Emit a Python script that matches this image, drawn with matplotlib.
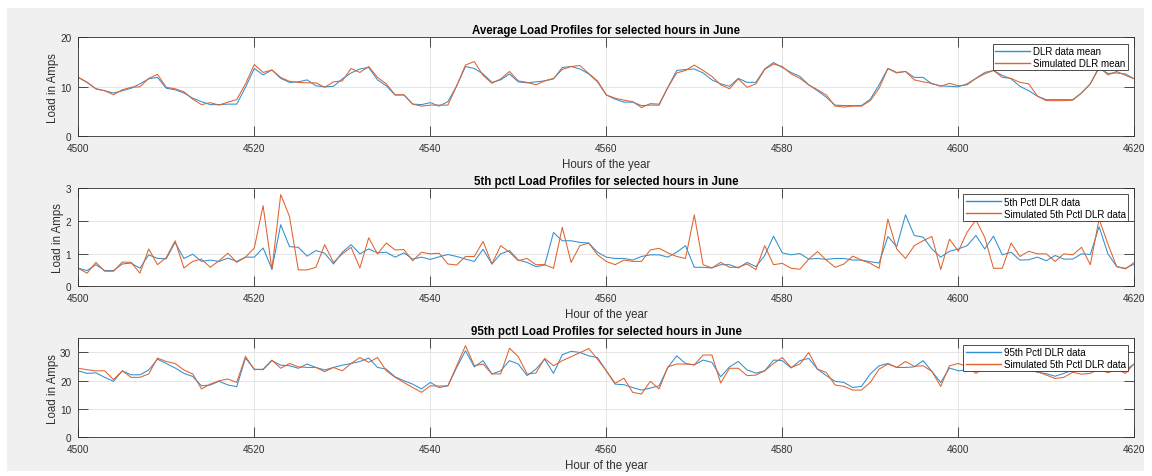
import numpy as np
import matplotlib
matplotlib.use("Agg")
import matplotlib.pyplot as plt
from matplotlib.patches import Rectangle

plt.rcParams['font.family'] = ['Liberation Sans', 'DejaVu Sans']

hours = np.arange(4500, 4621)

mean_dlr = [
    11.9, 10.9, 9.6, 9.2, 8.75, 9.2, 9.7, 10.6, 11.6, 11.9,
    9.7, 9.4, 8.75, 7.7, 7.0, 6.4, 6.4, 6.5, 6.5, 9.9,
    13.7, 12.4, 13.4, 11.7, 10.9, 11.0, 11.4, 10.2, 10.0, 10.1,
    11.6, 12.8, 13.6, 13.9, 11.4, 10.2, 8.35, 8.35, 6.5, 6.4,
    6.8, 6.1, 7.0, 10.2, 14.1, 13.7, 12.6, 10.9, 11.4, 12.6,
    11.0, 10.8, 11.0, 11.2, 11.6, 13.9, 14.1, 13.6, 12.6, 11.0,
    8.35, 7.5, 6.9, 6.9, 6.2, 6.3, 6.3, 9.9, 13.3, 13.5,
    13.6, 12.8, 11.4, 10.6, 10.1, 11.7, 10.9, 10.9, 13.6, 14.9,
    13.9, 12.9, 12.1, 10.4, 9.2, 7.9, 6.3, 6.2, 6.2, 6.2,
    7.5, 10.4, 13.7, 12.8, 13.1, 11.9, 11.9, 10.6, 10.2, 10.1,
    10.0, 10.6, 11.7, 12.9, 13.3, 12.3, 11.6, 10.1, 9.2, 8.1,
    7.4, 7.4, 7.4, 7.4, 8.75, 10.6, 13.8, 12.7, 12.8, 12.6,
    11.6,
]
mean_sim = [
    11.9, 10.9, 9.6, 9.2, 8.4, 9.4, 9.9, 10.0, 11.7, 12.5,
    9.9, 9.6, 9.0, 7.5, 6.4, 6.8, 6.3, 6.9, 7.4, 10.6,
    14.5, 12.9, 13.4, 11.9, 11.1, 10.9, 10.8, 10.8, 9.9, 11.0,
    11.2, 13.7, 12.9, 14.1, 11.9, 10.6, 8.35, 8.4, 6.5, 6.1,
    6.3, 6.3, 6.3, 10.2, 14.4, 15.1, 12.3, 10.7, 11.6, 13.1,
    11.2, 10.9, 10.4, 11.2, 11.7, 13.5, 14.1, 14.3, 12.7, 11.2,
    8.35, 7.7, 7.3, 7.0, 5.8, 6.6, 6.5, 9.9, 12.8, 13.3,
    14.4, 13.3, 12.1, 10.4, 9.6, 11.6, 9.9, 10.6, 13.5, 14.6,
    14.1, 12.6, 11.7, 10.4, 9.4, 8.35, 6.1, 5.9, 6.1, 6.1,
    7.2, 9.7, 13.7, 12.9, 13.1, 11.4, 11.0, 10.7, 10.1, 10.7,
    10.2, 10.4, 11.7, 12.6, 13.3, 11.9, 11.7, 10.9, 10.6, 8.1,
    7.2, 7.2, 7.2, 7.3, 8.75, 10.6, 14.0, 12.4, 13.1, 12.3,
    11.6,
]

p5_dlr = [
    0.55, 0.48, 0.66, 0.48, 0.48, 0.68, 0.71, 0.55, 0.96, 0.85,
    0.84, 1.34, 0.85, 0.98, 0.76, 0.80, 0.76, 0.86, 0.76, 0.89,
    0.89, 1.17, 0.53, 1.88, 1.21, 1.19, 0.92, 1.09, 1.01, 0.68,
    1.04, 1.27, 0.99, 1.14, 1.02, 1.04, 0.89, 1.02, 0.83, 0.89,
    0.82, 0.90, 0.97, 0.91, 0.83, 0.76, 1.13, 0.68, 0.99, 1.09,
    0.80, 0.73, 0.60, 0.65, 1.64, 1.39, 1.39, 1.34, 1.32, 1.04,
    0.89, 0.85, 0.85, 0.80, 0.91, 0.96, 0.96, 0.89, 1.04, 1.24,
    0.58, 0.58, 0.56, 0.66, 0.66, 0.56, 0.73, 0.60, 0.94, 1.53,
    1.02, 0.96, 1.00, 0.83, 0.85, 0.82, 0.85, 0.85, 0.80, 0.80,
    0.75, 0.71, 1.52, 1.21, 2.18, 1.55, 1.50, 1.14, 0.89, 1.07,
    1.14, 1.24, 1.55, 1.14, 1.53, 0.96, 1.04, 0.80, 0.81, 0.89,
    0.78, 0.94, 0.83, 0.83, 0.99, 0.97, 1.82, 0.99, 0.60, 0.55,
    0.68,
]
p5_sim = [
    0.55, 0.40, 0.73, 0.46, 0.46, 0.74, 0.73, 0.40, 1.14, 0.66,
    0.88, 1.39, 0.56, 0.76, 0.83, 0.58, 0.78, 1.01, 0.73, 0.89,
    1.17, 2.46, 0.51, 2.80, 2.13, 0.50, 0.50, 0.58, 1.27, 0.73,
    0.99, 1.19, 0.56, 1.48, 0.99, 1.32, 1.11, 1.12, 0.78, 1.04,
    0.99, 1.01, 0.68, 0.65, 0.91, 0.91, 1.37, 0.68, 1.24, 1.04,
    0.78, 0.85, 0.66, 0.66, 0.55, 1.80, 0.73, 1.24, 1.32, 0.96,
    0.76, 0.66, 0.80, 0.76, 0.76, 1.11, 1.16, 1.02, 0.91, 0.85,
    2.18, 0.66, 0.56, 0.73, 0.58, 0.58, 0.68, 0.51, 1.24, 0.66,
    0.70, 0.55, 0.52, 0.83, 1.06, 0.80, 0.58, 0.68, 0.92, 0.80,
    0.70, 0.55, 2.05, 1.14, 0.85, 1.24, 1.39, 1.52, 0.51, 1.44,
    1.07, 1.65, 2.02, 1.50, 0.55, 0.55, 1.32, 0.91, 1.07, 0.99,
    0.99, 0.76, 0.99, 0.96, 1.19, 0.66, 2.05, 1.29, 0.60, 0.53,
    0.73,
]

p95_dlr = [
    23.5, 22.6, 22.8, 21.2, 19.8, 23.5, 22.1, 22.1, 23.8, 27.6,
    26.1, 24.5, 22.6, 21.5, 18.2, 18.5, 19.8, 18.5, 17.9, 28.0,
    24.1, 23.9, 27.1, 25.5, 25.3, 24.4, 25.9, 24.7, 23.8, 24.7,
    25.5, 26.1, 26.8, 28.0, 24.7, 24.1, 21.4, 20.0, 18.8, 17.1,
    19.4, 17.6, 18.2, 24.7, 30.6, 24.9, 27.1, 22.4, 23.5, 27.1,
    25.9, 21.8, 24.1, 27.6, 22.6, 29.2, 30.4, 30.0, 28.8, 28.2,
    23.5, 18.8, 18.6, 17.6, 16.7, 17.4, 18.2, 24.7, 28.8, 26.1,
    25.6, 27.3, 26.5, 21.4, 24.9, 26.8, 23.8, 22.7, 23.5, 27.3,
    27.1, 24.5, 27.1, 27.9, 24.1, 21.8, 19.8, 19.4, 17.6, 18.0,
    22.4, 25.3, 26.1, 24.7, 24.7, 24.9, 27.1, 23.3, 19.4, 24.5,
    23.5, 23.8, 24.5, 25.0, 25.3, 24.7, 24.2, 24.0, 23.8, 23.0,
    22.5, 21.6, 22.6, 23.8, 24.2, 24.0, 24.4, 24.0, 24.2, 23.8,
    25.9,
]
p95_sim = [
    24.4, 23.9, 23.5, 23.5, 20.4, 23.5, 21.2, 21.2, 22.4, 28.0,
    26.8, 26.1, 23.8, 22.4, 17.1, 18.8, 20.0, 20.6, 19.4, 28.6,
    23.9, 24.1, 27.3, 24.4, 26.1, 24.9, 24.7, 24.7, 23.2, 24.7,
    23.5, 26.1, 28.2, 26.5, 28.2, 23.5, 21.2, 19.4, 17.6, 15.9,
    18.2, 18.1, 18.2, 25.3, 32.4, 25.3, 25.9, 22.4, 22.4, 31.5,
    28.5, 22.4, 22.7, 27.9, 25.3, 27.1, 28.5, 29.9, 31.4, 27.6,
    23.5, 19.1, 20.9, 15.9, 15.3, 19.8, 17.1, 24.9, 25.9, 25.9,
    25.6, 29.1, 29.1, 19.2, 24.4, 24.4, 21.8, 22.0, 23.5, 26.1,
    28.2, 24.7, 25.9, 30.0, 24.1, 22.9, 18.5, 18.0, 16.7, 16.7,
    19.4, 24.1, 25.9, 24.7, 26.8, 25.1, 25.3, 23.3, 18.0, 25.3,
    26.1, 25.0, 22.6, 24.5, 25.0, 24.0, 24.4, 24.0, 23.5, 23.2,
    22.0, 20.8, 21.2, 23.0, 22.3, 22.6, 24.2, 22.8, 24.0, 22.6,
    26.1,
]

titles = [
    "Average Load Profiles for selected hours in June",
    "5th pctl Load Profiles for selected hours in June",
    "95th pctl Load Profiles for selected hours in June",
]
xlabels = ["Hours of the year", "Hour of the year", "Hour of the year"]
legend_labels = [
    ("DLR data mean", "Simulated DLR mean"),
    ("5th Pctl DLR data", "Simulated 5th Pctl DLR data"),
    ("95th Pctl DLR data", "Simulated 5th Pctl DLR data"),
]
yticks = [[0, 10, 20], [0, 1, 2, 3], [0, 10, 20, 30]]
ylims = [(0, 20), (0, 3), (0, 35)]
xticks = list(range(4500, 4621, 20))

BLUE = "#2f8fd3"
ORANGE = "#e0622c"
DARK = "#303030"

W, H = 1152, 477
fig = plt.figure(figsize=(W / 100, H / 100), dpi=100, facecolor="white")
fig.add_artist(Rectangle((7 / W, 1 - 472 / H), (1144 - 7) / W, (472 - 9) / H,
                         transform=fig.transFigure, facecolor="#f0f0f0",
                         edgecolor="none", zorder=-10))

# axes boxes in pixel units: (left, top, right, bottom)
boxes = [(78.3, 38.3, 1134.3, 137.3),
         (78.3, 189.0, 1134.3, 287.3),
         (78.3, 339.3, 1134.3, 438.3)]
series = [(mean_dlr, mean_sim), (p5_dlr, p5_sim), (p95_dlr, p95_sim)]

for i, (l, t, r, b) in enumerate(boxes):
    ax = fig.add_axes([l / W, 1 - b / H, (r - l) / W, (b - t) / H])
    ax.set_facecolor("white")
    d, s = series[i]
    ax.plot(hours, d, color=BLUE, lw=0.75, label=legend_labels[i][0])
    ax.plot(hours, s, color=ORANGE, lw=0.75, label=legend_labels[i][1])
    ax.set_xlim(4500, 4620)
    ax.set_ylim(*ylims[i])
    ax.set_xticks(xticks)
    ax.set_yticks(yticks[i])
    ax.grid(True, color="#e0e0e0", lw=0.6)
    ax.set_axisbelow(True)
    for sp in ax.spines.values():
        sp.set_color(DARK)
        sp.set_linewidth(0.6)
    ax.tick_params(direction="in", length=7, width=0.6, color=DARK,
                   labelcolor=DARK, labelsize=7.2, top=True, right=True, pad=5)
    ax.set_title(titles[i], fontsize=8.3, fontweight="bold", color="black", pad=3)
    ax.set_xlabel(xlabels[i], fontsize=8.3, color=DARK, labelpad=3.5)
    ax.set_ylabel("Load in Amps", fontsize=8.3, color=DARK, labelpad=1)
    leg = ax.legend(loc="upper right", fontsize=7, frameon=True, fancybox=False,
                    framealpha=1, edgecolor=DARK, handlelength=3.6,
                    handletextpad=0.3, borderpad=0.25, labelspacing=0.2,
                    borderaxespad=0.65)
    leg.get_frame().set_linewidth(0.6)
    for line in leg.get_lines():
        line.set_linewidth(1.0)

fig.savefig("out.png", dpi=100, facecolor=fig.get_facecolor())
